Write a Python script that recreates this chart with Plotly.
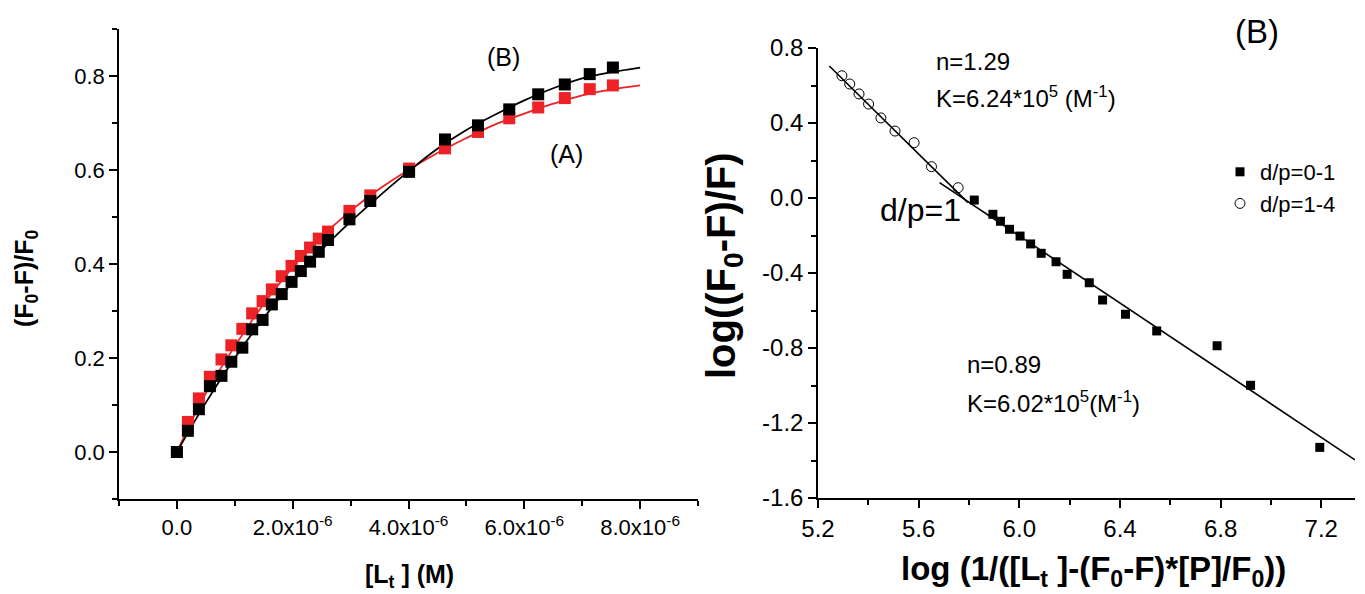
import plotly.graph_objects as go

# ---- Panel 1: quenching ratio vs total ligand concentration ----
conc = [0, 0.19e-6, 0.38e-6, 0.57e-6, 0.77e-6, 0.94e-6, 1.13e-6, 1.30e-6, 1.48e-6,
        1.64e-6, 1.81e-6, 1.98e-6, 2.14e-6, 2.30e-6, 2.45e-6, 2.61e-6, 2.98e-6,
        3.34e-6, 4.01e-6, 4.63e-6, 5.20e-6, 5.74e-6, 6.24e-6, 6.70e-6, 7.13e-6, 7.53e-6]
ratio_b = [0, 0.045, 0.091, 0.140, 0.162, 0.192, 0.222, 0.261, 0.281, 0.314, 0.336,
           0.362, 0.385, 0.405, 0.426, 0.451, 0.495, 0.534, 0.596, 0.665, 0.695,
           0.729, 0.761, 0.782, 0.804, 0.818]
ratio_a = [0, 0.064, 0.114, 0.160, 0.197, 0.227, 0.262, 0.295, 0.321, 0.346, 0.374,
           0.396, 0.417, 0.435, 0.454, 0.469, 0.513, 0.546, 0.603, 0.646, 0.681,
           0.710, 0.733, 0.753, 0.772, 0.780]

# fitted binding curves
fit_x = [0, 0.5e-6, 1.0e-6, 1.5e-6, 2.0e-6, 2.5e-6, 3.0e-6, 3.5e-6, 4.0e-6, 4.5e-6,
         5.0e-6, 5.5e-6, 6.0e-6, 6.5e-6, 7.0e-6, 7.5e-6, 8.0e-6]
fit_b = [0, 0.105, 0.200, 0.285, 0.362, 0.430, 0.490, 0.545, 0.597, 0.645, 0.685,
         0.718, 0.748, 0.774, 0.795, 0.808, 0.818]
fit_a = [0, 0.125, 0.225, 0.315, 0.393, 0.458, 0.513, 0.560, 0.600, 0.636, 0.668,
         0.697, 0.720, 0.741, 0.759, 0.771, 0.780]

x1_ticks = [0, 2e-6, 4e-6, 6e-6, 8e-6]
x1_labels = ["0.0", "2.0x10<sup>-6</sup>", "4.0x10<sup>-6</sup>",
             "6.0x10<sup>-6</sup>", "8.0x10<sup>-6</sup>"]

# ---- Panel 2: double-log plot ----
hi_x = [5.295, 5.326, 5.363, 5.401, 5.450, 5.506, 5.582, 5.651, 5.757]
hi_y = [0.652, 0.608, 0.555, 0.501, 0.427, 0.357, 0.295, 0.167, 0.055]
lo_x = [5.821, 5.895, 5.925, 5.961, 6.003, 6.045, 6.087, 6.146, 6.190, 6.278,
        6.331, 6.422, 6.546, 6.786, 6.919, 7.194]
lo_y = [-0.011, -0.087, -0.124, -0.167, -0.203, -0.245, -0.295, -0.340, -0.407,
        -0.452, -0.544, -0.620, -0.709, -0.788, -0.999, -1.330]
hi_fit_x = [5.245, 5.796]
hi_fit_y = [0.704, -0.025]
lo_fit_x = [5.683, 7.334]
lo_fit_y = [0.082, -1.397]

y2_ticks = [0.8, 0.4, 0.0, -0.4, -0.8, -1.2, -1.6]
y2_labels = ["0.8", "0.4", "0.0", "-0.4", "-0.8", "-1.2", "-1.6"]

RED = "#EC2227"
FONT = "Liberation Sans, Arial, sans-serif"

W, H = 1365, 594


def px(x):
    return x / W


def py(y):
    return (H - y) / H


fig = go.Figure()

fig.add_trace(go.Scatter(x=fit_x, y=fit_a, mode="lines",
                         line=dict(color=RED, width=1.8, shape="spline"),
                         showlegend=False, xaxis="x", yaxis="y"))
fig.add_trace(go.Scatter(x=fit_x, y=fit_b, mode="lines",
                         line=dict(color="black", width=1.8, shape="spline"),
                         showlegend=False, xaxis="x", yaxis="y"))
fig.add_trace(go.Scatter(x=conc, y=ratio_a, mode="markers",
                         marker=dict(symbol="square", size=12, color=RED, line=dict(width=0)),
                         showlegend=False, xaxis="x", yaxis="y"))
fig.add_trace(go.Scatter(x=conc, y=ratio_b, mode="markers",
                         marker=dict(symbol="square", size=12, color="black", line=dict(width=0)),
                         showlegend=False, xaxis="x", yaxis="y"))

fig.add_trace(go.Scatter(x=hi_fit_x, y=hi_fit_y, mode="lines",
                         line=dict(color="black", width=1.6),
                         showlegend=False, xaxis="x2", yaxis="y2"))
fig.add_trace(go.Scatter(x=lo_fit_x, y=lo_fit_y, mode="lines",
                         line=dict(color="black", width=1.6),
                         showlegend=False, xaxis="x2", yaxis="y2"))
fig.add_trace(go.Scatter(x=lo_x, y=lo_y, mode="markers", name="d/p=0-1",
                         marker=dict(symbol="square", size=9, color="black", line=dict(width=0)),
                         xaxis="x2", yaxis="y2"))
fig.add_trace(go.Scatter(x=hi_x, y=hi_y, mode="markers", name="d/p=1-4",
                         marker=dict(symbol="circle-open", size=10, color="black",
                                     line=dict(width=1)),
                         xaxis="x2", yaxis="y2"))

axis_common = dict(showline=True, linecolor="black", linewidth=1.5, ticks="outside",
                   tickcolor="black", tickwidth=1.5, ticklen=8, showgrid=False,
                   zeroline=False, mirror=False, automargin=False)
minor_common = dict(ticks="outside", ticklen=5, tickcolor="black", tickwidth=1.5)

fig.update_layout(
    width=W, height=H,
    margin=dict(l=0, r=0, t=0, b=0, autoexpand=False),
    paper_bgcolor="white", plot_bgcolor="white",
    font=dict(family=FONT, color="black"),
    xaxis=dict(domain=[px(119), px(698)], anchor="y", range=[-1e-6, 9e-6],
               tickmode="array", tickvals=x1_ticks, ticktext=x1_labels,
               tickfont=dict(size=22),
               minor=dict(dtick=1e-6, tick0=0, **minor_common),
               **axis_common),
    yaxis=dict(domain=[py(499), py(29)], anchor="x", range=[-0.1, 0.9],
               tick0=0, dtick=0.2, tickformat=".1f", tickfont=dict(size=22),
               minor=dict(dtick=0.1, tick0=0, **minor_common),
               **axis_common),
    xaxis2=dict(domain=[px(818), px(1355)], anchor="y2", range=[5.2, 7.334],
                tick0=5.2, dtick=0.4, tickformat=".1f", tickfont=dict(size=24),
                minor=dict(dtick=0.2, tick0=5.2, **minor_common),
                **axis_common),
    yaxis2=dict(domain=[py(498), py(48)], anchor="x2", range=[-1.6, 0.8],
                tickmode="array", tickvals=y2_ticks, ticktext=y2_labels,
                tickfont=dict(size=24),
                minor=dict(dtick=0.2, tick0=0, **minor_common),
                **axis_common),
    legend=dict(x=px(1220), y=py(151), xanchor="left", yanchor="top",
                font=dict(size=22, family=FONT), bgcolor="rgba(0,0,0,0)",
                itemwidth=30, tracegroupgap=0),
)


def label(x, y, text, size, xanchor="center", angle=0):
    return dict(x=px(x), y=py(y), xref="paper", yref="paper", text=text,
                showarrow=False, xanchor=xanchor, yanchor="middle",
                textangle=angle, font=dict(size=size))


annotations = [
    # panel 1 labels
    label(503, 57, "(B)", 25),
    label(566, 154, "(A)", 25),
    label(26, 279, "<b>(F<sub>0</sub>-F)/F<sub>0</sub></b>", 25, angle=-90),
    label(409, 576, "<b>[L<sub>t</sub> ] (M)</b>", 25),
    # panel 2 labels
    label(1257, 31, "(B)", 33),
    label(934, 61, "n=1.29", 24, xanchor="left"),
    label(934, 97, "K=6.24*10<sup>5</sup> (M<sup>-1</sup>)", 24, xanchor="left"),
    label(878, 210, "d/p=1", 32, xanchor="left"),
    label(965, 365, "n=0.89", 24, xanchor="left"),
    label(965, 402, "K=6.02*10<sup>5</sup>(M<sup>-1</sup>)", 24, xanchor="left"),
    label(724, 266, "<b>log((F<sub>0</sub>-F)/F)</b>", 40, angle=-90),
    label(1093, 571,
          "<b>log (1/([L<sub>t</sub> ]-(F<sub>0</sub>-F)*[P]/F<sub>0</sub>))</b>", 33),
]
fig.update_layout(annotations=annotations)

fig.write_html("out.html")
